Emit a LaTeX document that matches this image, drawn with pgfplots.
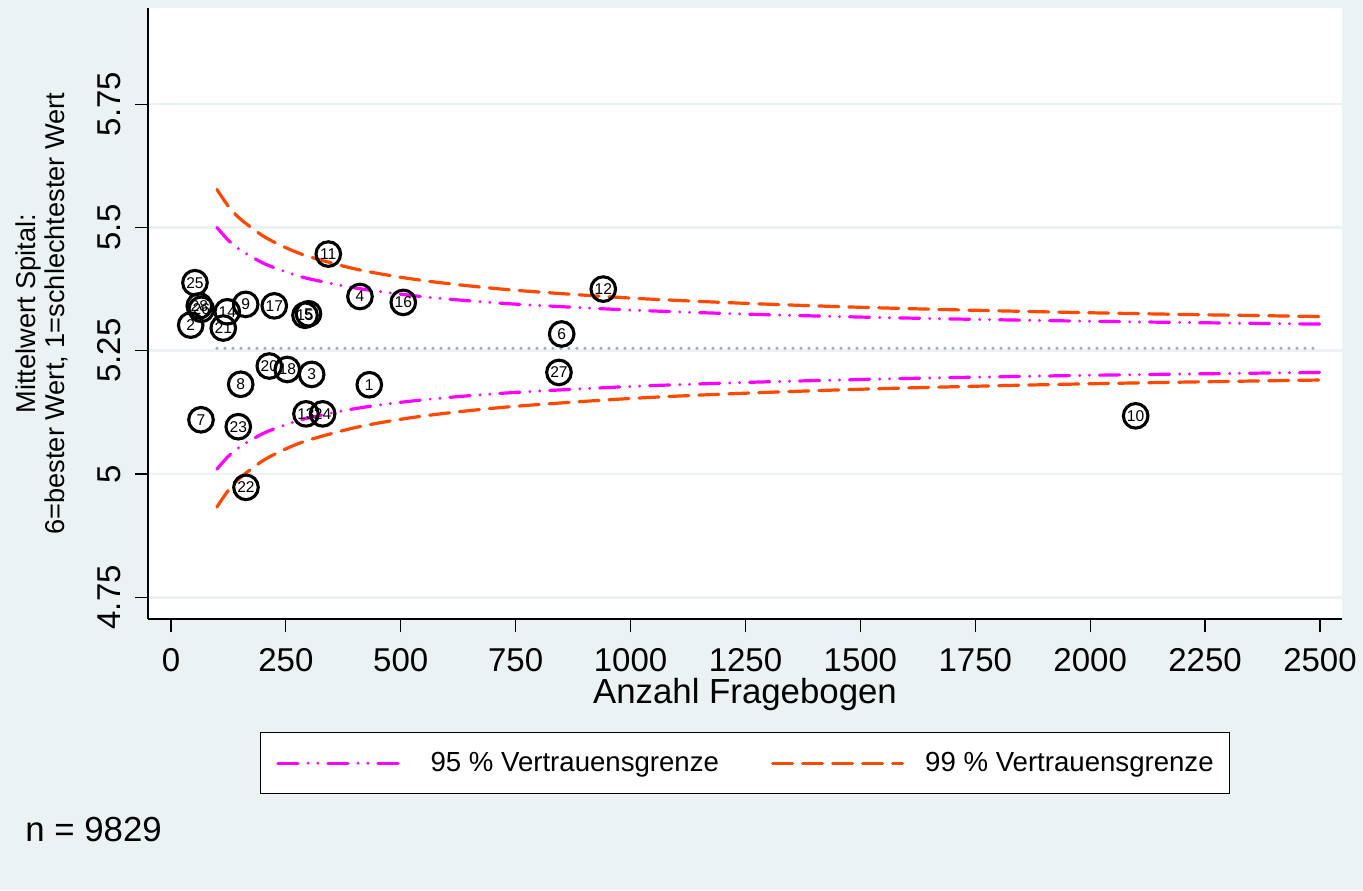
\documentclass[border=0pt]{standalone}
\usepackage{fontspec}
\setmainfont{Liberation Sans}
\usepackage{pgfplots}
\pgfplotsset{compat=1.18}
\definecolor{bg}{RGB}{234,242,243}
\definecolor{mag}{RGB}{255,0,255}
\definecolor{org}{RGB}{255,72,0}
\definecolor{mgray}{RGB}{168,168,168}

\begin{document}
\begin{tikzpicture}
\useasboundingbox (0,0) rectangle (681.5pt,445pt);
\fill[bg] (0,0) rectangle (681.5pt,445pt);
\begin{axis}[
  at={(74pt,135.5pt)}, anchor=south west,
  scale only axis, width=597pt, height=305.5pt,
  xmin=-50, xmax=2548, ymin=4.706, ymax=5.945,
  axis x line*=bottom, axis y line*=left,
  axis line style={line width=0.6pt, -},
  axis background/.style={fill=white},
  xtick={0,250,...,2500},
  ytick={4.75,5,5.25,5.5,5.75},
  yticklabels={4.75,5,5.25,5.5,5.75},
  /pgf/number format/assume math mode=true,
  /pgf/number format/1000 sep={},
  scaled ticks=false,
  tick align=outside, major tick length=6.5pt,
  tick style={line width=0.6pt, black},
  ymajorgrids, grid style={bg, line width=1.3pt},
  ticklabel style={font=\fontsize{16.5}{18}\selectfont, inner sep=0pt},
  xticklabel shift=8pt,
  yticklabel style={rotate=90, anchor=south},
  yticklabel shift=7pt,
  xlabel={Anzahl Fragebogen},
  xlabel style={font=\fontsize{17.4}{19}\selectfont, inner sep=0pt, at={(axis description cs:0.5,-0.1375)}, anchor=base},
  ylabel={Mittelwert Spital:\\6=bester Wert, 1=schlechtester Wert},
  ylabel style={font=\fontsize{13.6}{14.5}\selectfont, align=center, inner sep=0pt, rotate=0, at={(axis description cs:-0.0666,0.5)}, anchor=south},
  legend columns=2,
  legend image code/.code={\draw[#1] (0pt,0pt) -- (65pt,0pt);},
  legend style={at={(axis description cs:0.5,-0.18494)}, anchor=north, draw=black, line width=0.5pt, fill=white,
    font=\fontsize{13.8}{16}\selectfont, inner xsep=8pt, inner ysep=9.8pt,
    nodes={inner sep=0pt},
    /tikz/every odd column/.append style={column sep=10.5pt},
    /tikz/every even column/.append style={column sep=26pt}},
  legend cell align=left,
]
% 95% upper
\addplot[mag, line width=1.6pt, line cap=round, dash pattern=on 10.1pt off 5pt on 0pt off 4.9pt on 0pt off 5pt, smooth] coordinates {
(100,5.500) (125,5.474) (150,5.455) (200,5.428) (250,5.410) (300,5.396) (400,5.3775) (500,5.3646) (600,5.355) (750,5.3445) (1000,5.3325) (1250,5.3243) (1500,5.3183) (1750,5.3136) (2000,5.3098) (2250,5.3067) (2500,5.304)};
\addlegendentry{95 \% Vertrauensgrenze}
% 95% lower
\addplot[mag, line width=1.6pt, line cap=round, dash pattern=on 10.1pt off 5pt on 0pt off 4.9pt on 0pt off 5pt, smooth, forget plot] coordinates {
(100,5.010) (125,5.036) (150,5.055) (200,5.082) (250,5.100) (300,5.114) (400,5.1325) (500,5.1454) (600,5.155) (750,5.1655) (1000,5.1775) (1250,5.1857) (1500,5.1917) (1750,5.1964) (2000,5.2002) (2250,5.2033) (2500,5.206)};
% 99% upper
\addplot[org, line width=1.6pt, line cap=round, dash pattern=on 10pt off 5pt, smooth] coordinates {
(100,5.577) (125,5.543) (150,5.518) (200,5.483) (250,5.459) (300,5.441) (400,5.416) (500,5.399) (600,5.3865) (750,5.3726) (1000,5.3568) (1250,5.3461) (1500,5.3381) (1750,5.332) (2000,5.327) (2250,5.3229) (2500,5.3194)};
\addlegendentry{99 \% Vertrauensgrenze}
% 99% lower
\addplot[org, line width=1.6pt, line cap=round, dash pattern=on 10pt off 5pt, smooth, forget plot] coordinates {
(100,4.933) (125,4.967) (150,4.992) (200,5.027) (250,5.051) (300,5.069) (400,5.094) (500,5.111) (600,5.1235) (750,5.1374) (1000,5.1532) (1250,5.1639) (1500,5.1719) (1750,5.178) (2000,5.183) (2250,5.1871) (2500,5.1906)};
% mean
\addplot[mgray, line width=1.7pt, line cap=round, dash pattern=on 0pt off 4pt, forget plot] coordinates {(100,5.255) (2500,5.255)};
% hospitals
\addplot[only marks, mark=*, mark size=0pt, mark options={draw=none, fill=none}, forget plot,
  nodes near coords, point meta=explicit symbolic,
  nodes near coords style={circle, draw=black, line width=1.55pt, minimum size=12.3pt, inner sep=0pt, anchor=center, text=black, font=\fontsize{7.8}{8}\selectfont}]
table[meta=lab] {
x y lab
52.2 5.388 25
61.6 5.341 28
66 5.334 26
42.9 5.302 2
122.5 5.329 14
113.8 5.296 21
162.5 5.344 9
224.8 5.341 17
291.6 5.322 15
299.2 5.325 5
342.3 5.446 11
411.2 5.360 4
505.4 5.348 16
940.6 5.375 12
850.1 5.284 6
844.2 5.206 27
2099 5.118 10
213.9 5.219 20
253 5.212 18
306.1 5.202 3
151.7 5.182 8
431.5 5.181 1
65.3 5.110 7
146.4 5.096 23
293.7 5.122 13
330 5.122 24
163.2 4.973 22
};
\end{axis}
\node[anchor=base west, inner sep=0pt, font=\fontsize{17.4}{19}\selectfont] at (12.5pt,24.5pt) {n = 9829};
\end{tikzpicture}
\end{document}
